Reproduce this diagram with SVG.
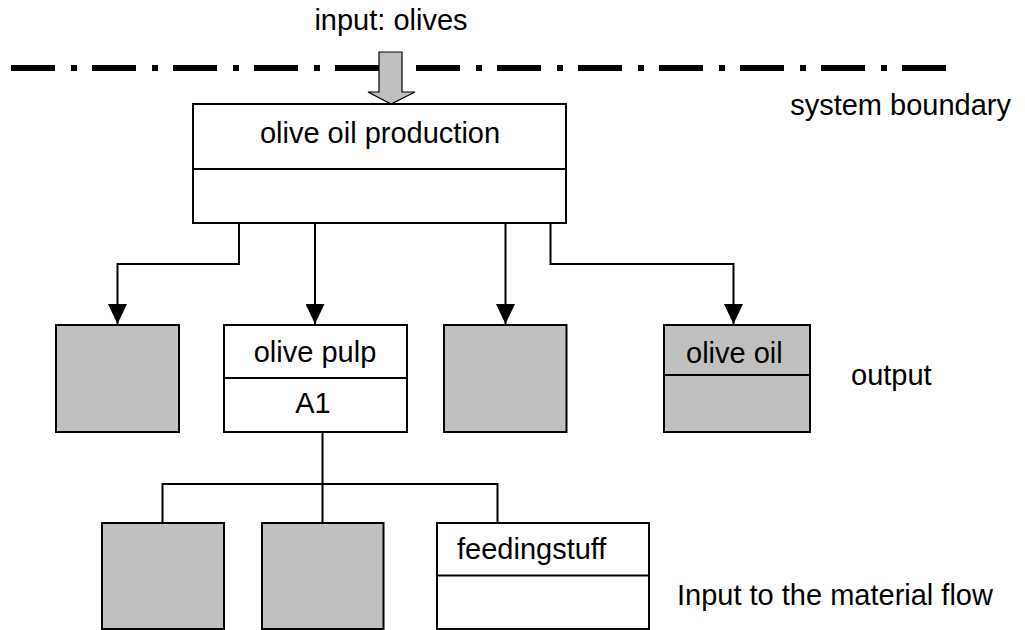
<svg xmlns="http://www.w3.org/2000/svg" width="1025" height="630" viewBox="0 0 1025 630">
<style>
text{font-family:"Liberation Sans",Arial,sans-serif;font-size:29px;fill:#000}
.box{stroke:#000;stroke-width:2}
.w{fill:#fff}
.g{fill:#c0c0c0}
.div{stroke:#000;stroke-width:2}
.conn{fill:none;stroke:#000;stroke-width:2}
</style>
<defs>
<marker id="ah" markerUnits="userSpaceOnUse" markerWidth="20" markerHeight="19" refX="20" refY="9.5" orient="auto">
<path d="M0,0 L20,9.5 L0,19 z" fill="#000"/>
</marker>
</defs>
<line x1="11" y1="68" x2="947" y2="68" stroke="#000" stroke-width="6" stroke-dasharray="44 16 6 15"/>
<text x="391" y="30" text-anchor="middle">input: olives</text>
<text x="1011" y="115" text-anchor="end">system boundary</text>
<text x="851" y="385">output</text>
<text x="677" y="605">Input to the material flow</text>
<g id="connectors">
<path class="conn" d="M239,224 V264 H117.5 V324" marker-end="url(#ah)"/>
<path class="conn" d="M315,224 V324" marker-end="url(#ah)"/>
<path class="conn" d="M505.5,224 V324" marker-end="url(#ah)"/>
<path class="conn" d="M550.5,224 V264 H733.5 V324" marker-end="url(#ah)"/>
<path class="conn" d="M322.5,432 V523"/>
<path class="conn" d="M162.5,523 V484 H497.5 V523"/>
</g>
<g id="input-arrow">
<path d="M379,52 H402 V92 H415 L391,104 L368,92 H379 Z" fill="#c0c0c0" stroke="#000" stroke-width="1.2"/>
</g>
<g id="production">
<rect class="box w" x="193" y="104" width="373" height="119"/>
<line class="div" x1="193" y1="169" x2="566" y2="169"/>
<text x="380" y="143" text-anchor="middle">olive oil production</text>
</g>
<g id="out1"><rect class="box g" x="56" y="325" width="123" height="107"/></g>
<g id="olive-pulp">
<rect class="box w" x="224" y="325" width="183" height="107"/>
<line class="div" x1="224" y1="378" x2="407" y2="378"/>
<text x="315" y="362" text-anchor="middle">olive pulp</text>
<text x="313" y="413" text-anchor="middle">A1</text>
</g>
<g id="out3"><rect class="box g" x="444" y="325" width="122.5" height="107"/></g>
<g id="olive-oil">
<rect class="box g" x="664" y="325" width="146" height="107"/>
<line class="div" x1="664" y1="375" x2="810" y2="375"/>
<text x="686" y="363">olive oil</text>
</g>
<g id="in1"><rect class="box g" x="102" y="523" width="122" height="106"/></g>
<g id="in2"><rect class="box g" x="262" y="523" width="121.5" height="106"/></g>
<g id="feedingstuff">
<rect class="box w" x="437" y="523" width="212" height="106"/>
<line class="div" x1="437" y1="575.5" x2="649" y2="575.5"/>
<text x="457" y="559">feedingstuff</text>
</g>
</svg>
